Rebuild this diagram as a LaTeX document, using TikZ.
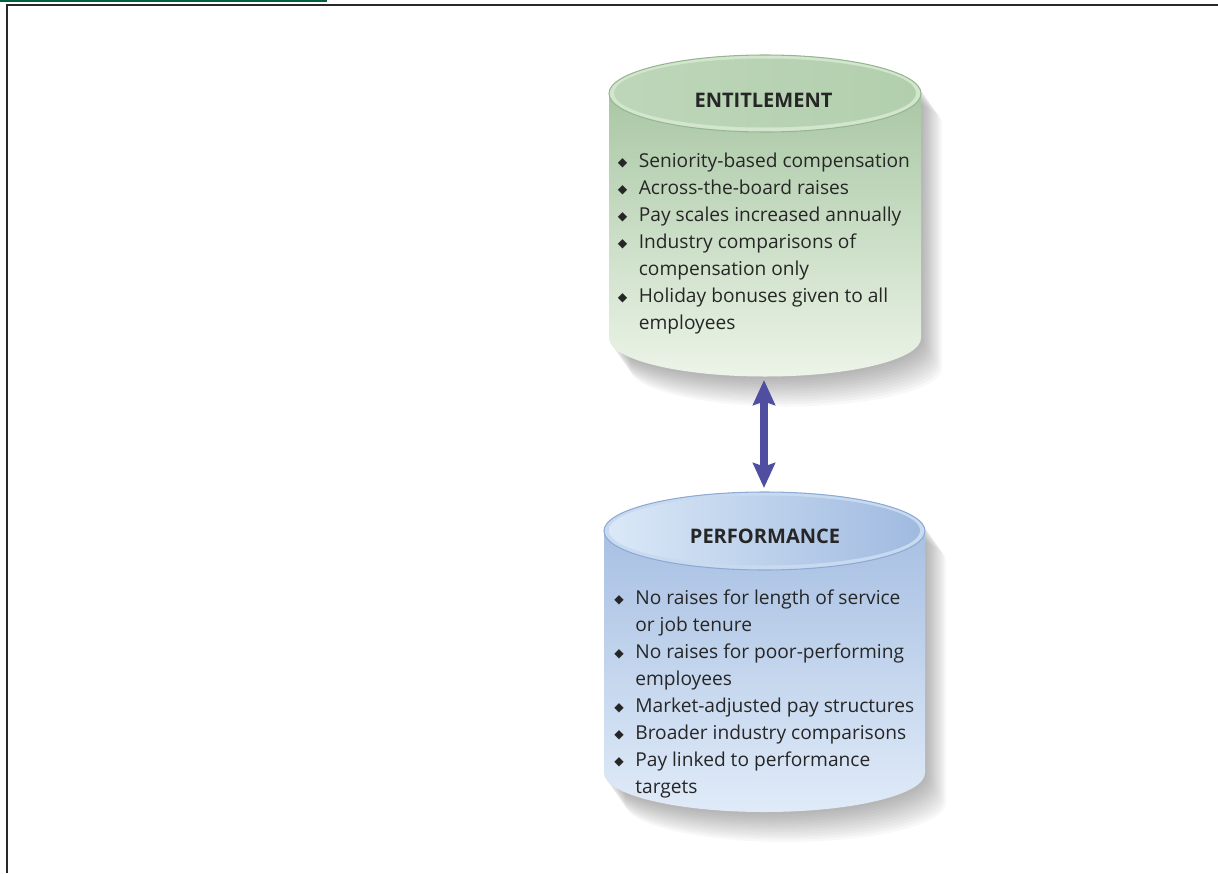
\documentclass[tikz,border=0pt]{standalone}
\usepackage{fontspec}
\setmainfont{Open Sans}
\newfontfamily\dejavu{DejaVu Sans}
\usetikzlibrary{arrows.meta}
\definecolor{framegray}{RGB}{40, 40, 40}
\definecolor{topgreen}{RGB}{0, 95, 65}
\definecolor{entdark}{RGB}{160, 193, 155}
\definecolor{entlight}{RGB}{236, 244, 232}
\definecolor{entface}{RGB}{178, 207, 173}
\definecolor{entrim}{RGB}{210, 229, 205}
\definecolor{entedge}{RGB}{150, 182, 145}
\definecolor{perfdark}{RGB}{160, 186, 224}
\definecolor{perflight}{RGB}{224, 235, 248}
\definecolor{perfleft}{RGB}{218, 232, 247}
\definecolor{perfright}{RGB}{160, 186, 224}
\definecolor{perfrim}{RGB}{200, 218, 240}
\definecolor{perfedge}{RGB}{140, 170, 212}
\definecolor{arrowblue}{RGB}{80, 78, 160}

% cylinder outline: centre x, half width, half height of the ends, top y, bottom y
\newcommand{\cylpath}[5]{(#1-#2,#4) -- (#1-#2,#5) arc[start angle=180, end angle=360, x radius=#2, y radius=#3] -- (#1+#2,#4) arc[start angle=0, end angle=180, x radius=#2, y radius=#3] -- cycle}
\newcommand{\dia}{\makebox[0.42cm][l]{\raisebox{0.6pt}{\dejavu\fontsize{7}{6}\selectfont ◆}}}
\newcommand{\gap}{\hspace*{0.42cm}}

\begin{document}
\begin{tikzpicture}[
  heading/.style={font=\fontsize{11.4}{12}\selectfont\bfseries, inner sep=0, anchor=base, text=black!85},
  bullets/.style={font=\fontsize{10.9}{15.3}\selectfont, align=left, inner sep=0, anchor=base west, text=black!85},
  shadowlayer/.style={fill=black, opacity=0.028}
]
\useasboundingbox (0,0) rectangle (24.36,-17.46);

% Frame
\draw[topgreen, line width=1.2pt] (0,-0.015) -- (6.54,-0.015);
\draw[framegray, line width=1.1pt] (0.14,-17.46) -- (0.14,-0.1) -- (24.36,-0.1);

% Shadows
\foreach \k in {1,...,12} {
  \fill[shadowlayer, xshift=\k*0.035cm, yshift=-\k*0.05cm] \cylpath{15.30}{3.12}{0.77}{-1.87}{-6.76};
  \fill[shadowlayer, xshift=\k*0.035cm, yshift=-\k*0.05cm] \cylpath{15.29}{3.21}{0.78}{-10.62}{-15.46};
}

% Entitlement cylinder
\shade[top color=entdark, bottom color=entlight] \cylpath{15.30}{3.12}{0.77}{-1.87}{-6.76};
\fill[entrim] (15.30,-1.87) ellipse[x radius=3.12, y radius=0.77];
\shade[left color=entface!85!white, right color=entface] (15.30,-1.86) ellipse[x radius=3.02, y radius=0.69];
\draw[entedge, line width=0.6pt] (15.30,-1.87) ellipse[x radius=3.12, y radius=0.77];

% Performance cylinder
\shade[top color=perfdark, bottom color=perflight] \cylpath{15.29}{3.21}{0.78}{-10.62}{-15.46};
\fill[perfrim] (15.29,-10.62) ellipse[x radius=3.21, y radius=0.78];
\shade[left color=perfleft, right color=perfright] (15.29,-10.61) ellipse[x radius=3.11, y radius=0.70];
\draw[perfedge, line width=0.6pt] (15.29,-10.62) ellipse[x radius=3.21, y radius=0.78];

% Texts (base anchor sits on the last line)
\node[heading] (enthead) at (15.27,-2.15) {ENTITLEMENT};
\node[bullets] (entlist) at (12.35,-6.58) {%
\dia Seniority-based compensation\\
\dia Across-the-board raises\\
\dia Pay scales increased annually\\
\dia Industry comparisons of\\
\gap compensation only\\
\dia Holiday bonuses given to all\\
\gap employees};

\node[heading] (perfhead) at (15.30,-10.87) {PERFORMANCE};
\node[bullets] (perflist) at (12.28,-15.86) {%
\dia No raises for length of service\\
\gap or job tenure\\
\dia No raises for poor-performing\\
\gap employees\\
\dia Market-adjusted pay structures\\
\dia Broader industry comparisons\\
\dia Pay linked to performance\\
\gap targets};

% Link
\coordinate (entbot) at (15.28,-7.60);
\coordinate (perftop) at (15.28,-9.76);
\draw[arrowblue, line width=4pt, {Stealth[length=5mm, width=4.4mm, inset=0.7mm]}-{Stealth[length=5mm, width=4.4mm, inset=0.7mm]}] (entbot) -- (perftop);

\end{tikzpicture}
\end{document}
